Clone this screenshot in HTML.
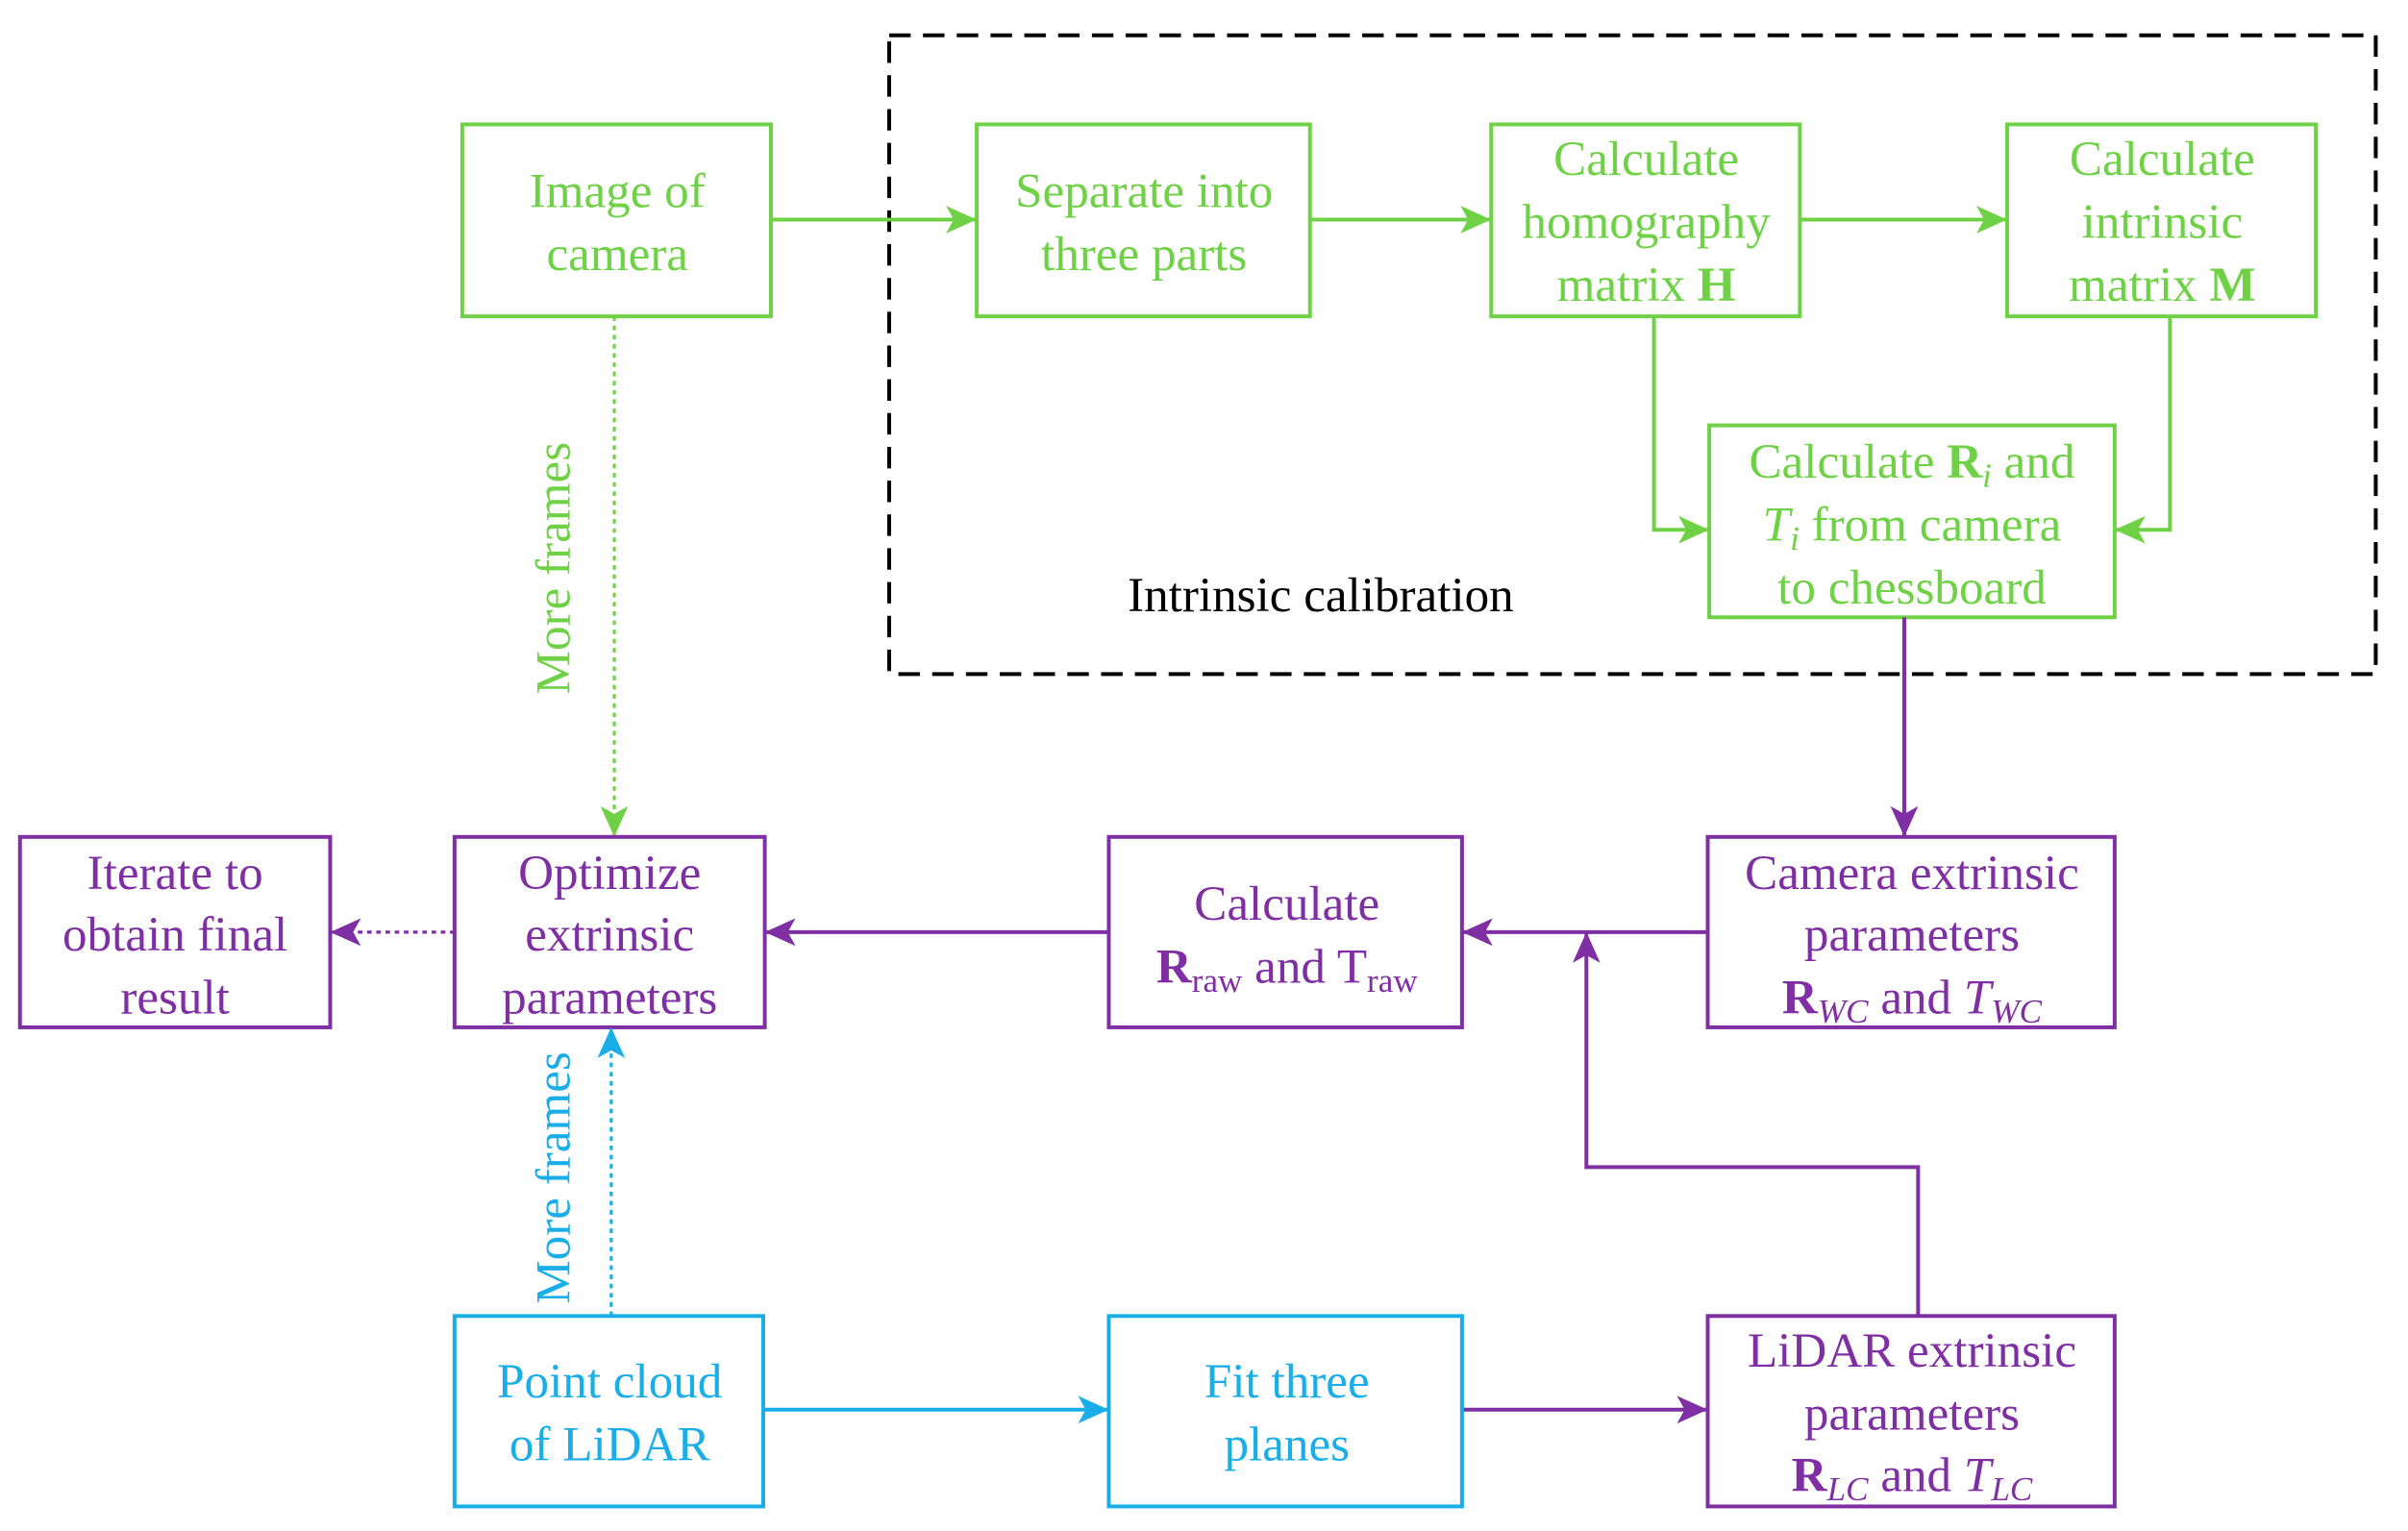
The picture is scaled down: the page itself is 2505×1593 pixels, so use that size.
<!DOCTYPE html>
<html><head><meta charset="utf-8"><style>
html,body{margin:0;padding:0;background:#fff;}
svg{display:block;}
text{font-family:"Liberation Serif",serif;font-size:32px;text-anchor:middle;}
.g{fill:#6fd246}.p{fill:#7f2fa3}.b{fill:#1aaee8}
</style></head><body>
<svg width="2505" height="1593" viewBox="0 0 1568 997" preserveAspectRatio="none" xmlns="http://www.w3.org/2000/svg">
<defs>
<marker id="ap" markerWidth="20" markerHeight="20" refX="19" refY="10" orient="auto" markerUnits="userSpaceOnUse"><path d="M0,1 L20,10 L0,19 L5,10 z" fill="#7f2fa3"/></marker>
<marker id="agg" markerWidth="20" markerHeight="20" refX="19" refY="10" orient="auto" markerUnits="userSpaceOnUse"><path d="M0,1 L20,10 L0,19 L5,10 z" fill="#6fd246"/></marker>
<marker id="ab" markerWidth="20" markerHeight="20" refX="19" refY="10" orient="auto" markerUnits="userSpaceOnUse"><path d="M0,1 L20,10 L0,19 L5,10 z" fill="#1aaee8"/></marker>
</defs>
<rect x="579" y="23" width="968" height="416" fill="none" stroke="#000" stroke-width="2.5" stroke-dasharray="14,8"/>
<text x="860" y="398" fill="#000">Intrinsic calibration</text>

<g fill="none" stroke="#6fd246" stroke-width="2.5">
<rect x="301" y="81" width="201" height="125"/>
<rect x="636" y="81" width="217" height="125"/>
<rect x="971" y="81" width="201" height="125"/>
<rect x="1307" y="81" width="201" height="125"/>
<rect x="1113" y="277" width="264" height="125"/>
<line x1="502" y1="143" x2="635" y2="143" marker-end="url(#agg)"/>
<line x1="853" y1="143" x2="970" y2="143" marker-end="url(#agg)"/>
<line x1="1172" y1="143" x2="1306" y2="143" marker-end="url(#agg)"/>
<polyline points="1077,206 1077,345 1112,345" marker-end="url(#agg)"/>
<polyline points="1413,206 1413,345 1378,345" marker-end="url(#agg)"/>
<line x1="400" y1="206" x2="400" y2="544" stroke-dasharray="3,3" stroke-width="2" marker-end="url(#agg)"/>
</g>
<g fill="none" stroke="#7f2fa3" stroke-width="2.5">
<rect x="13" y="545" width="202" height="124"/>
<rect x="296" y="545" width="202" height="124"/>
<rect x="722" y="545" width="230" height="124"/>
<rect x="1112" y="545" width="265" height="124"/>
<rect x="1112" y="857" width="265" height="124"/>
<line x1="1240" y1="402" x2="1240" y2="544" marker-end="url(#ap)"/>
<line x1="1112" y1="607" x2="953" y2="607" marker-end="url(#ap)"/>
<line x1="722" y1="607" x2="499" y2="607" marker-end="url(#ap)"/>
<line x1="296" y1="607" x2="216" y2="607" stroke-dasharray="3,3" stroke-width="2" marker-end="url(#ap)"/>
<polyline points="1249,857 1249,760 1033,760 1033,608" marker-end="url(#ap)"/>
<line x1="952" y1="918" x2="1111" y2="918" marker-end="url(#ap)"/>
</g>
<g fill="none" stroke="#1aaee8" stroke-width="2.5">
<rect x="296" y="857" width="201" height="124"/>
<rect x="722" y="857" width="230" height="124"/>
<line x1="497" y1="918" x2="721" y2="918" marker-end="url(#ab)"/>
<line x1="398" y1="857" x2="398" y2="670" stroke-dasharray="3,3" stroke-width="2" marker-end="url(#ab)"/>
</g>

<text class="g" x="402" y="135">Image of</text><text class="g" x="402" y="176">camera</text>
<text class="g" x="745" y="135">Separate into</text><text class="g" x="745" y="176">three parts</text>
<text class="g" x="1072" y="114">Calculate</text><text class="g" x="1072" y="155">homography</text><text class="g" x="1072" y="196">matrix <tspan font-weight="bold">H</tspan></text>
<text class="g" x="1408" y="114">Calculate</text><text class="g" x="1408" y="155">intrinsic</text><text class="g" x="1408" y="196">matrix <tspan font-weight="bold">M</tspan></text>
<text class="g" x="1245" y="311">Calculate <tspan font-weight="bold">R</tspan><tspan font-style="italic" font-size="22" dy="6">i</tspan><tspan dy="-6"> and</tspan></text>
<text class="g" x="1245" y="352"><tspan font-style="italic">T</tspan><tspan font-style="italic" font-size="22" dy="6">i</tspan><tspan dy="-6"> from camera</tspan></text>
<text class="g" x="1245" y="393">to chessboard</text>
<text class="g" transform="translate(371,370) rotate(-90)">More frames</text>

<text class="p" x="114" y="579">Iterate to</text><text class="p" x="114" y="619">obtain final</text><text class="p" x="114" y="660">result</text>
<text class="p" x="397" y="579">Optimize</text><text class="p" x="397" y="619">extrinsic</text><text class="p" x="397" y="660">parameters</text>
<text class="p" x="838" y="599">Calculate</text>
<text class="p" x="838" y="640"><tspan font-weight="bold">R</tspan><tspan font-size="22" dy="6">raw</tspan><tspan dy="-6"> and T</tspan><tspan font-size="22" dy="6">raw</tspan></text>
<text class="p" x="1245" y="579">Camera extrinsic</text><text class="p" x="1245" y="619">parameters</text>
<text class="p" x="1245" y="660"><tspan font-weight="bold">R</tspan><tspan font-style="italic" font-size="22" dy="6">WC</tspan><tspan dy="-6"> and </tspan><tspan font-style="italic">T</tspan><tspan font-style="italic" font-size="22" dy="6">WC</tspan></text>
<text class="p" x="1245" y="890">LiDAR extrinsic</text><text class="p" x="1245" y="931">parameters</text>
<text class="p" x="1245" y="971"><tspan font-weight="bold">R</tspan><tspan font-style="italic" font-size="22" dy="6">LC</tspan><tspan dy="-6"> and </tspan><tspan font-style="italic">T</tspan><tspan font-style="italic" font-size="22" dy="6">LC</tspan></text>

<text class="b" x="397" y="910">Point cloud</text><text class="b" x="397" y="951">of LiDAR</text>
<text class="b" x="838" y="910">Fit three</text><text class="b" x="838" y="951">planes</text>
<text class="b" transform="translate(371,767) rotate(-90)">More frames</text>
</svg>
</body></html>
